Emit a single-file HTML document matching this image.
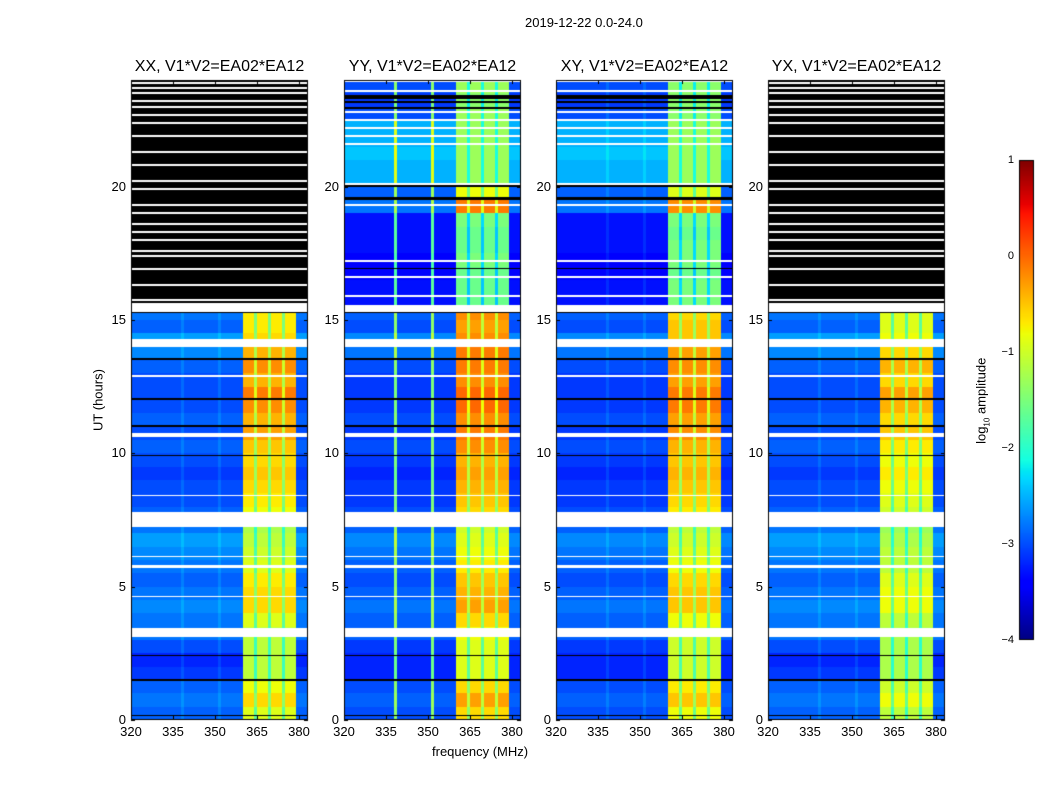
<!DOCTYPE html>
<html><head><meta charset="utf-8">
<style>
body{margin:0;background:#fff;}
#wrap{position:relative;width:1050px;height:800px;background:#fff;font-family:"Liberation Sans",sans-serif;color:#000;overflow:hidden}
canvas{position:absolute;left:0;top:0}
.t{position:absolute;white-space:nowrap;font-size:13px}
</style></head><body>
<div id="wrap">
<canvas id="cv" width="1050" height="800"></canvas>
<div class="t" style="left:525px;top:15px">2019-12-22 0.0-24.0</div>
<div class="t" style="left:432px;top:744px">frequency (MHz)</div>
<div class="t" style="top:400px;transform:translate(0,-50%) rotate(-90deg);transform-origin:center;width:90px;text-align:center;left:53px">UT (hours)</div>
<div class="t" style="left:935px;top:392px;width:95px;text-align:center;transform:rotate(-90deg)">log<sub style="font-size:8px">10</sub> amplitude</div>
<div id="labels"></div>
</div>
<script>
// ---- data ----
const panelNames = ["XX, V1*V2=EA02*EA12","YY, V1*V2=EA02*EA12","XY, V1*V2=EA02*EA12","YX, V1*V2=EA02*EA12"];
const xTicks = [320,335,350,365,380];
const yTicks = [0,5,10,15,20];
const cbTicks = [1,0,-1,-2,-3,-4];
const chanShape = [];
for (let i=0;i<64;i++) chanShape.push(0);
[40,41,42,43,45,46,47,48,50,51,52,53,55,56,57,58].forEach(i=>chanShape[i]=1);
[44,49,54].forEach(i=>chanShape[i]=0.5);
const chanRfi = {18:0.5,31:0.5};
const N = null;
const bgXX = [-2.5,-2.4,-2.5,-2.7,-2.8,-2.6,-2.4,-2.4,-2.3,-2.4,-2.5,-2.4,-2.3,-2.2,-2.4,-2.5,-2.6,-2.6,-2.7,-2.6,-2.5,-2.6,-2.5,-2.6,-2.6,-2.6,-2.5,-2.3,-2.2,-2.5,-2.4,N,N,N,N,N,N,N,N,N,N,N,N,N,N,N,N,N];
const bandXX = [-0.6,-0.3,-0.5,-0.8,-0.8,-0.8,-0.8,-0.6,-0.3,-0.3,-0.4,-0.6,-0.7,-0.8,-0.9,-0.5,-0.4,-0.3,-0.2,-0.3,-0.2,0.0,-0.1,0.1,0.2,-0.1,0.1,-0.1,-0.3,-0.4,-0.4,N,N,N,N,N,N,N,N,N,N,N,N,N,N,N,N,N];
const bgYY = [-2.6,-2.5,-2.6,-2.8,-2.8,-2.7,-2.5,-2.5,-2.4,-2.5,-2.6,-2.5,-2.4,-2.3,-2.5,-2.6,-2.7,-2.7,-2.8,-2.7,-2.6,-2.7,-2.6,-2.7,-2.7,-2.7,-2.6,-2.4,-2.3,-2.6,-2.5,-2.9,-2.9,-3.0,-3.0,-2.9,-2.9,-2.9,-2.4,-2.5,-2.1,-2.1,-2.0,-2.1,-2.1,-2.6,-2.7,-2.6];
const bandYY = [-0.3,0.0,-0.3,-0.6,-0.6,-0.6,-0.5,-0.3,0.0,-0.1,-0.2,-0.4,-0.5,-0.6,-0.7,-0.3,-0.2,-0.1,0.0,-0.1,0.1,0.2,0.1,0.3,0.3,0.1,0.2,0.2,0.1,0.0,0.1,-1.3,-1.3,-1.3,-1.2,-1.3,-1.3,-1.2,0.2,-0.5,-1.0,-1.0,-1.0,-1.0,-1.0,-1.0,-1.1,-1.0];
const bgXY = bgYY.slice();
const bandXY = [-0.5,-0.2,-0.4,-0.7,-0.7,-0.7,-0.7,-0.5,-0.2,-0.2,-0.3,-0.5,-0.6,-0.7,-0.8,-0.4,-0.3,-0.2,-0.1,-0.2,-0.1,0.1,0.0,0.2,0.2,0.0,0.1,0.0,-0.2,-0.2,-0.3,-1.2,-1.2,-1.3,-1.2,-1.2,-1.3,-1.2,0.1,-0.6,-1.0,-1.0,-1.0,-1.0,-1.0,-1.1,-1.1,-1.1];
const bgYX = bgXX.slice();
const bandYX = [-0.8,-0.5,-0.7,-0.9,-0.9,-0.9,-0.9,-0.8,-0.5,-0.5,-0.6,-0.8,-0.8,-0.9,-1.0,-0.7,-0.6,-0.5,-0.4,-0.5,-0.4,-0.2,-0.3,-0.1,0.0,-0.3,-0.1,-0.3,-0.5,-0.6,-0.6,N,N,N,N,N,N,N,N,N,N,N,N,N,N,N,N,N];
const bgRows = [bgXX,bgYY,bgXY,bgYX];
const bandRows = [bandXX,bandYY,bandXY,bandYX];
const whiteFlags = [[3.1,3.45],[7.25,7.8],[14.0,14.3],[10.6,10.75],[5.7,5.8],[15.3,15.55],[12.85,12.92],[4.6,4.65],[8.4,8.45],[6.1,6.15]];
const blackFlags = [[1.45,1.53],[2.4,2.45],[12.0,12.06],[13.5,13.56],[9.9,9.95],[0.15,0.2],[11.0,11.05],[15.25,15.3]];
const upperWhiteXX = [15.6,15.75,16.3,16.9,17.4,17.6,18.0,18.3,18.6,19.0,19.3,19.9,20.2,20.8,21.3,21.9,22.4,22.7,23.0,23.2,23.5,23.7,23.9];
const upperWhiteYY = [15.9,16.6,17.2,19.3,20.1,21.6,21.9,22.2,22.5,22.8,23.6,23.95];
const upperBlackYY = [[16.9,16.96],[19.5,19.6],[20.0,20.05],[22.9,23.0],[23.15,23.2],[23.3,23.45]];
const bgShift = -0.4, bandShift = -0.3;

// ---- layout ----
const panelX = [131,344,556,768], pw=177, plotTop=80, plotBottom=720;
const fMin=320, fMax=383.2, hMin=0, hMax=24;
const xs = (f,i)=>panelX[i]+(f-fMin)/(fMax-fMin)*pw;
const ys = h=>plotBottom-(h-hMin)/(hMax-hMin)*(plotBottom-plotTop);
function interp(t,pts){for(let i=1;i<pts.length;i++){if(t<=pts[i][0]){const a=pts[i-1],b=pts[i];return a[1]+(b[1]-a[1])*(t-a[0])/(b[0]-a[0]);}}return pts[pts.length-1][1];}
const RJ=[[0,0],[0.35,0],[0.66,1],[0.89,1],[1,0.5]];
const GJ=[[0,0],[0.125,0],[0.375,1],[0.64,1],[0.91,0],[1,0]];
const BJ=[[0,0.5],[0.11,1],[0.34,1],[0.65,0],[1,0]];
function jet(v){
  let t=(v+4)/5; t=Math.max(0,Math.min(1,t));
  return [interp(t,RJ)*255|0,interp(t,GJ)*255|0,interp(t,BJ)*255|0];
}
const cv=document.getElementById('cv'), ctx=cv.getContext('2d');
const img=ctx.createImageData(1050,800);
function inFl(h,list){for(const f of list){if(h>=f[0]&&h<f[1])return true;}return false;}
for(let p=0;p<4;p++){
  const upperBlack = (p===0||p===3);
  for(let y=plotTop;y<plotBottom;y++){
    const h=(plotBottom-y-0.5)/(plotBottom-plotTop)*(hMax-hMin)+hMin;
    const row=Math.min(47,Math.floor(h*2));
    for(let x=panelX[p];x<panelX[p]+pw;x++){
      const f=fMin+(x+0.5-panelX[p])/pw*(fMax-fMin);
      const ch=Math.min(63,Math.floor(f-320));
      let col;
      const bg=bgRows[p][row], bd=bandRows[p][row];
      if(inFl(h,whiteFlags)) col=[255,255,255];
      else if(inFl(h,blackFlags)) col=[0,0,0];
      else if(h>=15.55 && upperBlack){
        col=[0,0,0];
        for(const w of upperWhiteXX) if(Math.abs(h-w)<0.04) col=[255,255,255];
      } else if(h>=15.55 && (upperWhiteYY.some(w=>Math.abs(h-w)<0.04))) col=[255,255,255];
      else if(h>=15.55 && inFl(h,upperBlackYY)) col=[0,0,0];
      else if(bg===null) col=[0,0,0];
      else {
        const s=chanShape[ch];
        let v = s===1?(bd+bandShift) : s===0.5?(bd+bandShift-0.8):(bg+bgShift+(p===1&&chanRfi[ch]?chanRfi[ch]*3.2:(chanRfi[ch]||0)*0.3));
        col=jet(v);
      }
      const k=(y*1050+x)*4; img.data[k]=col[0];img.data[k+1]=col[1];img.data[k+2]=col[2];img.data[k+3]=255;
    }
  }
}
for(let y=160;y<640;y++){const v=1-(y-160)/480*5;const c=jet(v);for(let x=1019;x<1034;x++){const k=(y*1050+x)*4;img.data[k]=c[0];img.data[k+1]=c[1];img.data[k+2]=c[2];img.data[k+3]=255;}}
ctx.putImageData(img,0,0);
ctx.strokeStyle='#000';ctx.lineWidth=1;
for(let p=0;p<4;p++){
  ctx.strokeRect(panelX[p]+0.5,plotTop+0.5,pw-1,plotBottom-plotTop-1);
  xTicks.forEach(t=>{const x=Math.round(xs(t,p))+0.5;ctx.beginPath();ctx.moveTo(x,plotBottom);ctx.lineTo(x,plotBottom-4);ctx.moveTo(x,plotTop);ctx.lineTo(x,plotTop+4);ctx.stroke();});
  yTicks.forEach(t=>{const y=Math.round(ys(t))+0.5;ctx.beginPath();ctx.moveTo(panelX[p],y);ctx.lineTo(panelX[p]+4,y);ctx.moveTo(panelX[p]+pw,y);ctx.lineTo(panelX[p]+pw-4,y);ctx.stroke();});
}
ctx.strokeRect(1019.5,160.5,14,479);
const L=document.getElementById('labels');
function lab(txt,x,y,name,style){const d=document.createElement('div');d.className='t';d.textContent=txt;d.style.left=x+'px';d.style.top=y+'px';if(style)d.style.cssText+=style;


L.appendChild(d);}
for(let p=0;p<4;p++){
  lab(panelNames[p],panelX[p]+pw/2,58,'panel-title','transform:translateX(-50%);font-size:16px');
  xTicks.forEach(t=>lab(String(t),xs(t,p),724,'x-tick-label','transform:translateX(-50%)'));
  yTicks.forEach(t=>lab(String(t),panelX[p]-5,ys(t)-8,'y-tick-label','transform:translateX(-100%)'));
}
cbTicks.forEach(t=>lab(String(t).replace('-','\u2212'),1014,160+(1-t)/5*480-6,'colorbar-tick-label','transform:translateX(-100%);font-size:11px'));
</script>
</body></html>
